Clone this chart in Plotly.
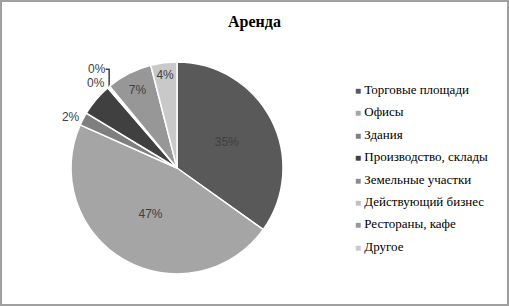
import plotly.graph_objects as go

title_text = "Аренда"
categories = ["Торговые площади", "Офисы", "Здания", "Производство, склады",
              "Земельные участки", "Действующий бизнес", "Рестораны, кафе", "Другое"]
values = [35, 47, 2, 5, 0.2, 0.2, 7, 4]
colors = ["#595959", "#a5a5a5", "#7f7f7f", "#404040", "#8c8c8c", "#bfbfbf", "#979797", "#c9c9c9"]
text_positions = ["inside", "inside", "outside", "inside", "outside", "outside", "inside", "inside"]

W, H = 509, 306
cx, cy, r = 177, 168, 106

fig = go.Figure()
fig.add_trace(go.Pie(
    labels=categories,
    values=values,
    sort=False,
    direction="clockwise",
    rotation=0,
    marker=dict(colors=colors, line=dict(color="white", width=1.5)),
    texttemplate="%{percent:.0%}",
    textposition=text_positions,
    insidetextorientation="horizontal",
    textfont=dict(family="Liberation Sans", size=12, color="#404040"),
    insidetextfont=dict(family="Liberation Sans", size=12, color="#404040"),
    outsidetextfont=dict(family="Liberation Sans", size=12, color="#404040"),
    domain=dict(x=[(cx - r) / W, (cx + r) / W], y=[1 - (cy + r) / H, 1 - (cy - r) / H]),
    hoverinfo="label+percent",
    showlegend=False,
))

# legend entries with small square swatches like the reference
for cat, col in zip(categories, colors):
    fig.add_trace(go.Scatter(
        x=[None], y=[None], mode="markers", legendgroup=cat,
        name=f"<span style='color:{col};font-size:10px'>■</span> {cat}",
        marker=dict(symbol="square", size=1, color="rgba(0,0,0,0)"), hoverinfo="skip"))

fig.update_layout(
    width=W, height=H,
    margin=dict(l=0, r=0, t=0, b=0),
    paper_bgcolor="white",
    plot_bgcolor="white",
    xaxis=dict(visible=False),
    yaxis=dict(visible=False),
    title=dict(text="<b>" + title_text + "</b>", x=0.5, xanchor="center", y=1 - 21 / H, yanchor="middle",
               font=dict(family="Liberation Serif", size=16, color="#000000")),
    legend=dict(x=315 / W, y=1 - 74 / H, xanchor="left", yanchor="top",
                font=dict(family="Liberation Serif", size=13, color="#000000"),
                bgcolor="rgba(0,0,0,0)", itemwidth=30, tracegroupgap=2.5),
    shapes=[dict(type="rect", xref="paper", yref="paper", x0=1 / W, x1=1 - 1 / W, y0=1 / H, y1=1 - 1 / H,
                 line=dict(color="#a0a0a0", width=2))],
    showlegend=True,
)

fig.write_html("out.html", config={"displayModeBar": False},
               post_script="document.body.style.margin='0';document.body.style.overflow='hidden';")
